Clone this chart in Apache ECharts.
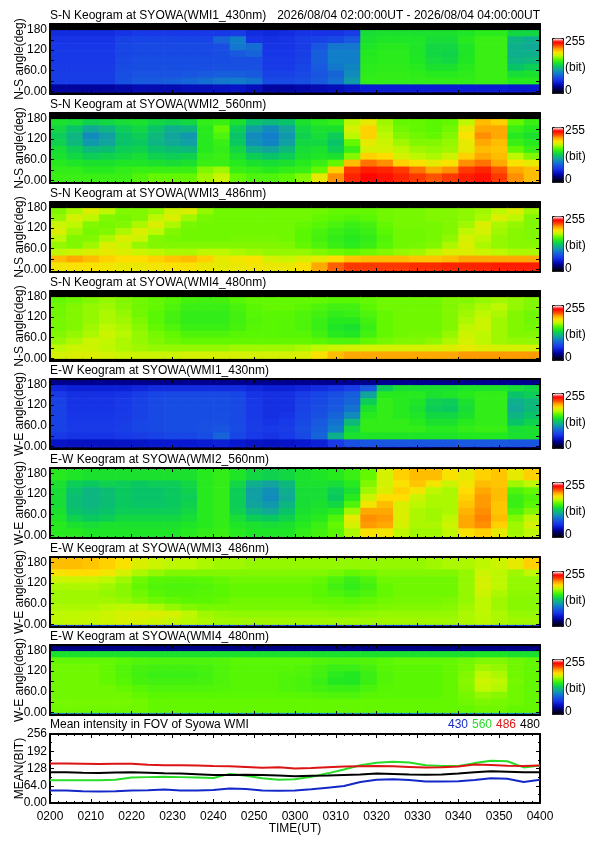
<!DOCTYPE html>
<html><head><meta charset="utf-8">
<script src="https://cdn.jsdelivr.net/npm/echarts@6.0.0/dist/echarts.min.js"></script>
<style>html,body{margin:0;padding:0;background:#fff}#c{width:595px;height:842px}</style>
</head><body><div id="c"></div>
<script>
// ---------------- DATA ----------------
const timeBins = [0,4,8,12,16,20,24,28,32,36,40,44,48,52,56,60,64,68,72,76,80,84,88,92,96,100,104,108,112,116,120];
const angleBins = [-8,0,20,40,60,80,100,120,140,160,180,196];

const panelTitles = [
  'S-N Keogram at SYOWA(WMI1_430nm)','S-N Keogram at SYOWA(WMI2_560nm)',
  'S-N Keogram at SYOWA(WMI3_486nm)','S-N Keogram at SYOWA(WMI4_480nm)',
  'E-W Keogram at SYOWA(WMI1_430nm)','E-W Keogram at SYOWA(WMI2_560nm)',
  'E-W Keogram at SYOWA(WMI3_486nm)','E-W Keogram at SYOWA(WMI4_480nm)'];
const panelYNames = ['N-S angle(deg)','N-S angle(deg)','N-S angle(deg)','N-S angle(deg)',
  'W-E angle(deg)','W-E angle(deg)','W-E angle(deg)','W-E angle(deg)'];
const headerText = '2026/08/04 02:00:00UT - 2026/08/04 04:00:00UT';

const kSN430 = [
 [58,58,58,58,62,64,64,64,64,64,64,66,58,56,58,62,62,62,66,138,140,140,140,140,140,142,146,146,135,135],
 [62,62,62,62,68,70,70,70,70,70,85,95,62,60,62,66,68,72,80,140,142,142,142,138,138,145,150,150,118,115],
 [63,63,63,63,70,72,72,72,72,72,75,92,88,62,62,66,78,92,92,142,145,145,142,135,135,142,150,150,115,112],
 [64,64,64,64,70,72,72,72,72,72,74,80,84,63,63,67,82,95,95,144,146,146,142,135,133,142,150,150,115,115],
 [64,64,64,64,72,74,74,74,74,74,74,75,75,64,64,68,82,95,95,145,146,146,143,137,135,143,150,150,118,120],
 [65,65,65,65,73,75,75,75,75,75,76,76,76,65,65,70,80,92,98,146,147,147,145,140,140,145,150,150,125,130],
 [66,66,66,66,75,77,77,77,78,80,82,82,80,68,68,72,78,85,100,147,148,148,147,145,145,147,150,150,138,140],
 [66,66,66,66,76,80,80,82,85,88,92,94,90,72,72,75,80,88,105,148,148,148,148,148,148,148,150,150,145,145],
 [35,35,35,35,38,40,40,40,42,42,44,45,42,36,36,38,40,42,45,50,50,50,50,50,50,50,50,50,48,48]];
const kSN560 = [
 [140,138,132,135,138,140,135,132,135,148,150,140,125,120,125,140,145,148,175,185,170,160,160,158,160,175,200,195,160,150],
 [135,125,112,118,130,135,125,115,118,145,160,130,108,100,110,135,140,140,180,195,172,162,160,158,162,185,205,205,150,145],
 [130,118,100,108,125,130,120,110,105,145,155,125,100,95,105,132,138,130,175,195,175,165,162,160,165,190,210,205,145,140],
 [132,120,105,110,125,128,118,112,108,145,150,128,102,97,108,135,135,125,160,185,178,170,165,165,168,185,205,200,150,145],
 [138,130,120,122,130,132,125,122,120,145,148,135,115,110,120,138,140,130,150,180,180,175,170,168,170,185,200,198,160,150],
 [140,135,130,132,135,138,132,130,132,148,150,140,130,125,130,140,142,140,165,195,192,180,175,172,178,195,205,200,175,165],
 [145,142,140,140,142,142,140,138,140,150,150,145,140,138,140,145,150,160,200,215,210,195,190,185,190,210,215,205,190,185],
 [148,148,145,145,148,150,150,150,150,165,170,150,148,145,148,150,160,195,225,232,230,225,215,205,210,225,230,220,205,200],
 [150,150,150,150,150,155,160,160,160,170,178,160,155,155,158,165,185,210,230,238,235,230,225,220,225,232,235,225,210,200]];
const kSN486 = [
 [165,172,182,175,165,165,168,178,182,168,162,162,162,162,162,162,162,160,160,160,162,163,163,165,165,167,170,175,182,170],
 [168,180,175,165,163,165,175,182,170,163,162,162,162,162,162,162,160,158,156,158,162,163,163,165,165,167,172,182,175,165],
 [178,175,165,163,165,172,182,172,163,162,162,162,162,162,162,160,157,154,150,153,160,163,163,163,165,170,182,172,168,165],
 [182,170,163,165,172,182,175,165,162,162,162,162,162,162,162,158,154,150,147,150,158,162,162,163,165,175,180,170,166,165],
 [175,165,165,172,182,178,165,163,162,162,162,163,163,163,162,158,153,148,145,148,156,162,162,163,167,180,175,168,166,165],
 [168,165,170,182,178,168,165,165,165,165,165,165,165,165,164,160,155,150,146,150,157,162,163,165,172,182,172,168,166,166],
 [175,178,182,185,182,178,175,172,172,175,175,172,170,168,168,168,165,162,160,162,165,168,170,175,182,182,178,175,172,172],
 [200,205,200,195,192,192,195,198,200,195,185,188,190,180,178,182,185,192,198,200,200,200,198,198,200,205,205,205,205,205],
 [188,190,190,188,186,186,188,190,190,186,184,186,188,186,186,190,205,218,225,225,225,225,228,228,230,230,230,232,232,232]];
const kSN480 = [
 [160,162,165,168,165,162,160,157,153,152,153,157,160,160,160,160,160,158,158,160,162,162,162,162,165,165,168,170,168,165],
 [162,165,168,170,166,162,160,155,150,150,150,154,158,160,160,158,155,152,152,158,162,162,162,162,165,168,172,175,168,165],
 [162,165,168,172,168,162,158,153,148,148,148,152,157,158,158,155,152,148,150,155,160,162,162,162,165,170,175,172,165,162],
 [163,165,168,172,170,164,158,152,148,148,148,152,156,158,157,155,150,145,145,152,160,162,162,162,165,172,178,170,165,162],
 [163,165,170,175,172,166,160,155,150,150,150,153,157,158,157,155,150,142,140,150,160,162,162,162,165,175,178,170,165,163],
 [165,168,172,178,174,168,163,160,155,155,155,157,158,158,157,157,152,145,143,152,160,162,163,163,168,178,175,170,165,165],
 [168,172,178,176,172,168,165,162,160,160,160,160,160,160,160,160,158,155,155,160,163,165,165,167,172,180,175,170,168,168],
 [175,178,178,175,172,170,168,168,168,168,168,170,170,170,170,172,175,178,180,180,180,180,180,180,182,185,182,180,180,180],
 [180,182,182,180,178,178,178,178,180,180,180,180,180,180,180,182,190,200,205,205,205,205,205,205,205,208,208,208,208,208]];
const kEW430 = [
 [55,52,52,52,52,55,58,58,58,58,58,58,55,52,52,55,58,62,66,80,130,140,140,140,140,142,142,142,138,135],
 [65,60,60,60,62,66,70,72,72,72,72,70,62,60,60,66,70,75,82,110,145,145,145,140,142,145,148,148,125,130],
 [68,62,62,62,64,68,72,74,74,74,74,72,64,60,60,68,72,78,85,130,148,145,142,132,130,140,148,148,115,120],
 [68,62,62,62,64,68,72,74,74,74,74,72,64,60,60,68,74,80,90,140,148,145,140,130,128,138,148,148,112,120],
 [68,63,63,63,65,68,72,74,74,74,75,72,64,60,62,70,76,85,100,145,148,145,142,135,135,140,148,148,118,125],
 [68,64,64,64,66,70,72,74,74,75,76,72,65,62,64,72,80,90,120,148,148,148,145,140,140,145,148,148,125,132],
 [68,65,65,65,67,70,72,74,74,76,78,73,66,64,66,75,82,95,135,148,148,148,148,145,145,148,150,150,138,140],
 [64,62,62,62,64,66,68,70,70,74,84,70,64,62,64,72,85,115,140,142,142,142,142,142,142,144,144,144,140,140],
 [45,44,44,44,45,46,48,48,48,50,52,48,45,44,45,48,52,65,75,78,78,78,78,78,78,80,80,80,78,78]];
const kEW560 = [
 [145,142,140,140,140,140,140,140,140,145,148,142,135,132,135,140,142,145,150,160,180,195,200,200,190,185,195,198,185,195],
 [140,130,128,132,130,128,130,130,135,145,148,135,115,110,120,140,140,138,145,165,180,190,198,188,178,188,200,198,170,175],
 [138,125,118,122,128,125,125,128,132,145,148,130,108,102,115,138,138,130,140,170,182,195,188,175,172,192,205,200,155,160],
 [138,122,118,122,128,125,125,128,130,145,148,130,108,100,112,138,138,128,145,178,192,192,178,172,172,195,208,200,150,155],
 [138,122,118,122,128,126,126,128,132,145,148,130,110,105,118,138,140,135,155,188,200,182,175,172,172,198,208,198,150,158],
 [140,125,122,125,130,130,130,130,135,145,148,132,118,112,125,140,142,145,170,205,205,182,172,170,172,202,210,198,155,165],
 [142,132,128,130,135,135,135,135,138,145,148,138,130,128,132,142,145,155,185,210,208,182,172,170,175,205,212,200,165,175],
 [145,140,138,140,140,140,140,140,142,145,148,142,140,138,140,145,150,160,180,208,205,180,172,172,178,205,210,195,170,180],
 [145,145,142,142,142,142,142,142,145,148,150,145,142,142,142,148,152,158,172,190,188,175,170,170,175,190,195,185,170,175]];
const kEW486 = [
 [200,200,198,195,190,182,178,175,175,172,170,170,168,168,168,168,168,168,168,168,168,168,168,170,172,172,175,178,185,195],
 [190,192,192,188,180,172,168,165,165,165,165,165,165,165,165,165,165,163,160,162,165,165,165,165,165,168,178,175,170,175],
 [178,178,178,175,170,162,158,157,157,158,160,162,162,162,162,162,160,155,150,155,162,162,162,162,162,168,180,175,168,168],
 [172,172,172,170,166,160,156,155,155,156,158,160,160,160,160,160,158,152,148,152,160,162,162,162,162,168,180,175,168,168],
 [170,170,170,168,166,162,158,156,156,157,158,160,160,160,160,160,158,155,152,155,160,162,162,162,162,168,178,172,167,167],
 [170,170,170,170,168,165,162,160,158,158,160,162,162,162,162,162,160,160,158,160,162,163,163,163,164,168,175,170,166,166],
 [172,172,172,174,175,175,172,168,165,163,163,163,163,163,163,163,163,162,162,163,164,165,165,165,166,170,175,170,166,166],
 [175,175,176,178,180,182,182,180,175,170,168,167,167,167,167,167,167,166,166,167,168,168,168,168,168,172,175,172,168,168],
 [175,176,176,178,180,180,178,176,174,172,170,170,170,170,170,170,170,170,170,170,170,170,170,170,170,172,174,172,170,170]];
const kEW480 = [
 [140,140,140,140,140,140,140,140,140,140,140,140,140,140,140,140,140,140,140,140,140,140,140,140,140,140,142,142,140,140],
 [160,160,160,160,158,156,155,155,155,155,156,158,158,158,158,158,156,155,155,156,158,160,160,160,160,162,165,165,162,160],
 [162,162,162,160,156,153,152,152,152,153,155,157,157,157,157,156,153,150,150,153,157,158,158,158,160,163,170,168,162,160],
 [162,162,162,160,156,152,150,150,150,152,155,157,157,157,156,155,152,146,144,150,156,158,158,158,160,165,175,172,162,160],
 [162,162,162,160,157,153,152,152,152,153,155,157,157,157,155,154,150,144,143,150,156,158,158,158,160,166,178,175,163,160],
 [162,162,162,162,160,157,155,155,155,155,156,157,157,157,155,154,152,150,150,154,157,158,158,158,160,165,176,173,162,160],
 [162,162,162,162,162,160,158,158,158,158,158,158,158,158,158,157,156,155,155,157,158,158,158,158,160,163,168,166,162,160],
 [163,163,163,163,163,162,160,160,160,160,160,160,160,160,160,160,160,160,160,160,160,160,160,160,160,162,164,163,162,160],
 [162,162,162,162,162,162,160,160,160,160,160,160,160,160,160,160,160,160,160,160,160,160,160,160,160,160,162,162,160,160]];
const keograms = [kSN430, kSN560, kSN486, kSN480, kEW430, kEW560, kEW486, kEW480];
const topStrip    = [0, 0, 0, 0, 32, null, null, 30];
const bottomStrip = [25, null, null, 0, 28, null, 70, 100];

const lineTimes = [0,4,8,12,16,20,24,28,32,36,40,44,48,52,56,60,64,68,72,76,80,84,88,92,96,100,104,108,112,116,120];
const mean430 = [46,46,44,43,44,46,47,50,46,46,48,54,52,46,45,46,51,57,63,78,86,88,85,80,80,81,85,92,90,78,86];
const mean560 = [84,84,84,84,86,95,96,97,96,95,93,108,101,92,86,88,97,110,124,140,149,153,150,140,137,137,148,157,155,132,139];
const mean486 = [147,147,146,145,146,146,142,140,140,139,137,136,134,131,133,128,130,133,135,136,137,136,134,132,133,135,143,141,138,137,139];
const mean480 = [114,114,112,111,113,114,112,110,109,107,104,104,105,104,102,99,101,102,104,106,109,108,106,105,106,109,114,118,116,114,114];
const lineNames = ['430','560','486','480'];
const lineColors = ['#1428c8','#28dc28','#dc1414','#000000'];

// ---------------- LAYOUT / STYLE ----------------
const FONT = '"Liberation Sans", Arial, Helvetica, sans-serif';
const plotLeft = 50, plotWidth = 490;
const panelTops = [24, 113, 202, 291, 379, 468, 557, 645];
const panelHeight = 70;
const lineTop = 734, lineHeight = 69;
const palette = ['#000000','#000040','#000090','#0818d0','#1838e8','#1858e0','#1080c8','#10a898',
  '#08c860','#20e820','#60f800','#c0f800','#ffe000','#ffa000','#ff4000','#ff0000','#ffffff'];

function fmtNum(v) { return v === 0 ? '0.00' : (v < 100 ? v.toFixed(1) : String(v)); }
function fmtTime(v) { const h = 2 + Math.floor(v / 60), m = v % 60; return '0' + h + (m < 10 ? '0' : '') + m; }

function buildCells(rows, topEdge, bottomEdge) {
  const out = [];
  const n = rows.length;
  for (let c = 0; c < timeBins.length - 1; c++) {
    const t0 = timeBins[c], t1 = timeBins[c + 1];
    out.push([t0, t1, angleBins[0], angleBins[1], bottomEdge === null ? rows[n - 1][c] : bottomEdge]);
    for (let i = 0; i < n; i++) {
      const lo = n - i;
      out.push([t0, t1, angleBins[lo], angleBins[lo + 1], rows[i][c]]);
    }
    out.push([t0, t1, angleBins[n + 1], angleBins[n + 2], topEdge === null ? rows[0][c] : topEdge]);
  }
  return out;
}
function renderCell(params, api) {
  const p0 = api.coord([api.value(0), api.value(2)]);
  const p1 = api.coord([api.value(1), api.value(3)]);
  return { type: 'rect', silent: true,
    shape: { x: p0[0], y: p1[1], width: p1[0] - p0[0] + 0.6, height: p0[1] - p1[1] + 0.6 },
    style: { fill: api.visual('color') } };
}
const lineStyleAxis = { color: '#000', width: 2 };
const labelStyle = { fontFamily: FONT, fontSize: 12, color: '#000' };
function timeAxis(gi, pos, showLabel, name) {
  return { gridIndex: gi, type: 'value', position: pos, min: 0, max: 120, interval: 10,
    axisLine: { show: true, onZero: false, lineStyle: lineStyleAxis },
    axisTick: { show: true, inside: true, length: 4, lineStyle: { color: '#000', width: 1 } },
    minorTick: { show: true, splitNumber: 5, length: 2, lineStyle: { color: '#000', width: 1 } },
    splitLine: { show: false }, minorSplitLine: { show: false },
    axisLabel: Object.assign({ show: showLabel, formatter: fmtTime, margin: 8, showMinLabel: true, showMaxLabel: true }, labelStyle),
    name: name || '', nameLocation: 'middle', nameGap: 20, nameMoveOverlap: false, nameTextStyle: labelStyle };
}
function angleAxis(gi, pos, name) {
  return { gridIndex: gi, type: 'value', position: pos, min: -8, max: 196,
    axisLine: { show: true, onZero: false, lineStyle: lineStyleAxis },
    axisTick: { show: true, inside: true, length: 4, customValues: [0,30,60,90,120,150,180], lineStyle: { color: '#000', width: 1 } },
    axisLabel: Object.assign({ show: pos === 'left', customValues: [0,60,120,180], formatter: fmtNum, margin: 3 }, labelStyle),
    splitLine: { show: false },
    name: name || '', nameLocation: 'middle', nameGap: 24, nameMoveOverlap: false, nameTextStyle: labelStyle };
}
function meanAxis(gi, pos, name) {
  return { gridIndex: gi, type: 'value', position: pos, min: 0, max: 256, interval: 64,
    axisLine: { show: true, onZero: false, lineStyle: lineStyleAxis },
    axisTick: { show: true, inside: true, length: 4, lineStyle: { color: '#000', width: 1 } },
    minorTick: { show: true, splitNumber: 2, length: 2, lineStyle: { color: '#000', width: 1 } },
    axisLabel: Object.assign({ show: pos === 'left', formatter: fmtNum, margin: 3, showMinLabel: true, showMaxLabel: true }, labelStyle),
    splitLine: { show: false }, minorSplitLine: { show: false },
    name: name || '', nameLocation: 'middle', nameGap: 24, nameMoveOverlap: false, nameTextStyle: labelStyle };
}
function txt(x, y, text, align, color) {
  return { type: 'text', x: x, y: y, silent: true, z: 10,
    style: { text: text, font: '12px ' + FONT, fill: color || '#000',
      align: align || 'left', textAlign: align || 'left', verticalAlign: 'middle', textVerticalAlign: 'middle' } };
}

const grids = [], xAxes = [], yAxes = [], series = [], visualMaps = [], graphics = [];
keograms.forEach((rows, i) => {
  const top = panelTops[i];
  grids.push({ left: plotLeft, top: top, width: plotWidth, height: panelHeight, containLabel: false, outerBoundsMode: 'none' });
  xAxes.push(timeAxis(i, 'bottom', false, ''), timeAxis(i, 'top', false, ''));
  yAxes.push(angleAxis(i, 'left', panelYNames[i]), angleAxis(i, 'right', ''));
  series.push({ type: 'custom', name: panelTitles[i], xAxisIndex: 2 * i, yAxisIndex: 2 * i,
    renderItem: renderCell, data: buildCells(rows, topStrip[i], bottomStrip[i]),
    dimensions: ['t0','t1','a0','a1','v'], encode: { x: [0, 1], y: [2, 3] },
    clip: true, z: -1, silent: true });
  visualMaps.push({ type: 'continuous', seriesIndex: i, dimension: 4, min: 0, max: 255,
    calculable: false, hoverLink: false, inRange: { color: palette }, itemWidth: 11, itemHeight: 55,
    left: 552, top: top + 14, orient: 'vertical', text: null, padding: 0,
    borderColor: '#000', borderWidth: 1 });
  graphics.push(txt(plotLeft, top - 8, panelTitles[i], 'left'));
  graphics.push(txt(565, top + 18, '255', 'left'));
  graphics.push(txt(565, top + 44, '(bit)', 'left'));
  graphics.push(txt(565, top + 67, '0', 'left'));
});
graphics.push(txt(540, 16, headerText, 'right'));

// mean intensity chart
const g = keograms.length;
grids.push({ left: plotLeft, top: lineTop, width: plotWidth, height: lineHeight, containLabel: false, outerBoundsMode: 'none' });
xAxes.push(timeAxis(g, 'bottom', true, 'TIME(UT)'), timeAxis(g, 'top', false, ''));
yAxes.push(meanAxis(g, 'left', 'MEAN(BIT)'), meanAxis(g, 'right', ''));
[mean430, mean560, mean486, mean480].forEach((vals, k) => {
  series.push({ type: 'line', name: lineNames[k], xAxisIndex: 2 * g, yAxisIndex: 2 * g,
    data: lineTimes.map((t, j) => [t, vals[j]]), showSymbol: false, symbol: 'none',
    lineStyle: { color: lineColors[k], width: 2 }, itemStyle: { color: lineColors[k] }, z: 1 });
});
graphics.push(txt(plotLeft, lineTop - 9, 'Mean intensity in FOV of Syowa WMI', 'left'));
const legendX = [448, 472, 496, 520];
lineNames.forEach((nm, k) => graphics.push(txt(legendX[k], lineTop - 9, nm, 'left', lineColors[k])));

const chart = echarts.init(document.getElementById('c'), null, { renderer: 'canvas', width: 595, height: 842 });
chart.setOption({
  backgroundColor: '#ffffff',
  animation: false,
  textStyle: { fontFamily: FONT },
  grid: grids, xAxis: xAxes, yAxis: yAxes,
  visualMap: visualMaps,
  series: series,
  graphic: { elements: graphics }
});
</script></body></html>
